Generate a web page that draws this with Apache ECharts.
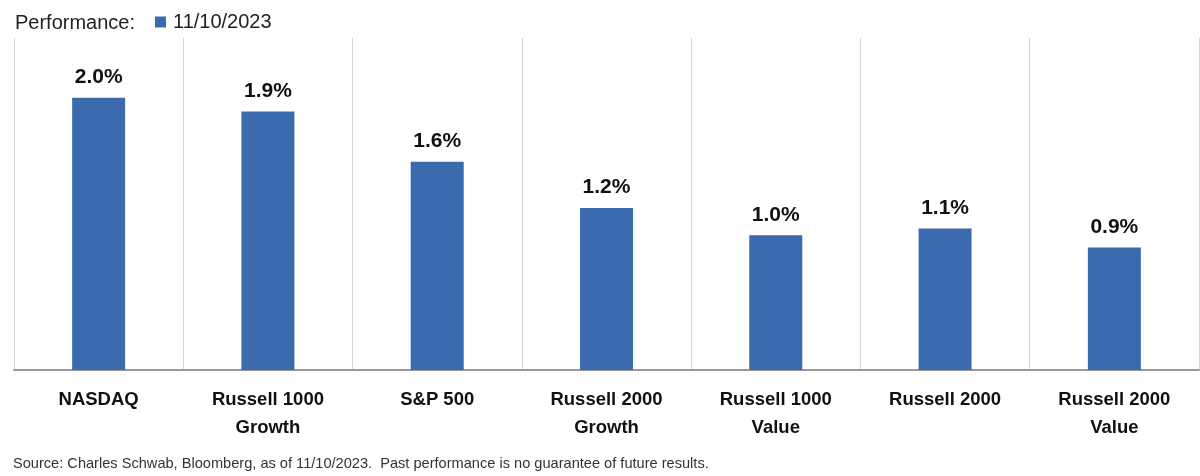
<!DOCTYPE html>
<html>
<head>
<meta charset="utf-8">
<script src="https://cdn.jsdelivr.net/npm/echarts@6/dist/echarts.min.js"></script>
<style>
  html, body { margin: 0; padding: 0; background: #fff; }
  #chart { width: 1200px; height: 476px; }
</style>
</head>
<body>
<div id="chart"></div>
<script>
// categories and values
const categories = ['NASDAQ', 'Russell 1000\nGrowth', 'S&P 500', 'Russell 2000\nGrowth', 'Russell 1000\nValue', 'Russell 2000', 'Russell 2000\nValue'];
const values = [2.0, 1.9, 1.53, 1.19, 0.99, 1.04, 0.9];
const valueLabels = ['2.0%', '1.9%', '1.6%', '1.2%', '1.0%', '1.1%', '0.9%'];
const seriesName = '11/10/2023';

const chart = echarts.init(document.getElementById('chart'));
const font = 'Liberation Sans, Arial, sans-serif';

const option = {
  animation: false,
  title: [
    {
      text: 'Performance:',
      left: 10, top: 8,
      textStyle: { fontFamily: font, fontSize: 20, fontWeight: 'normal', color: '#222' }
    },
    {
      text: 'Source: Charles Schwab, Bloomberg, as of 11/10/2023.  Past performance is no guarantee of future results.',
      left: 8, top: 451,
      textStyle: { fontFamily: font, fontSize: 14.6, fontWeight: 'normal', color: '#333' }
    }
  ],
  legend: {
    left: 150, top: 7,
    itemWidth: 11, itemHeight: 11, itemGap: 6,
    icon: 'rect',
    textStyle: { fontFamily: font, fontSize: 20, color: '#222', padding: [0, 0, 0, 2] },
    data: [seriesName]
  },
  grid: { left: 14, right: 1, top: 38, bottom: 106 },
  xAxis: {
    type: 'category',
    data: categories,
    axisLine: { lineStyle: { color: '#9a9a9a', width: 2 } },
    axisTick: { show: false },
    splitLine: { show: true, lineStyle: { color: '#d4d4d4', width: 1 } },
    axisLabel: {
      interval: 0, margin: 16,
      fontFamily: font, fontSize: 18.5, fontWeight: 'bold', color: '#111', lineHeight: 28
    }
  },
  yAxis: {
    type: 'value', min: 0, max: 2.44,
    show: false, splitLine: { show: false }
  },
  series: [{
    name: seriesName,
    type: 'bar',
    data: values,
    barWidth: 53,
    itemStyle: { color: '#3b6aae' },
    label: {
      show: true, position: 'top', distance: 10,
      fontFamily: font, fontSize: 21, fontWeight: 'bold', color: '#111',
      formatter: p => valueLabels[p.dataIndex]
    }
  }]
};

chart.setOption(option);
window.addEventListener('resize', () => chart.resize());
</script>
</body>
</html>
